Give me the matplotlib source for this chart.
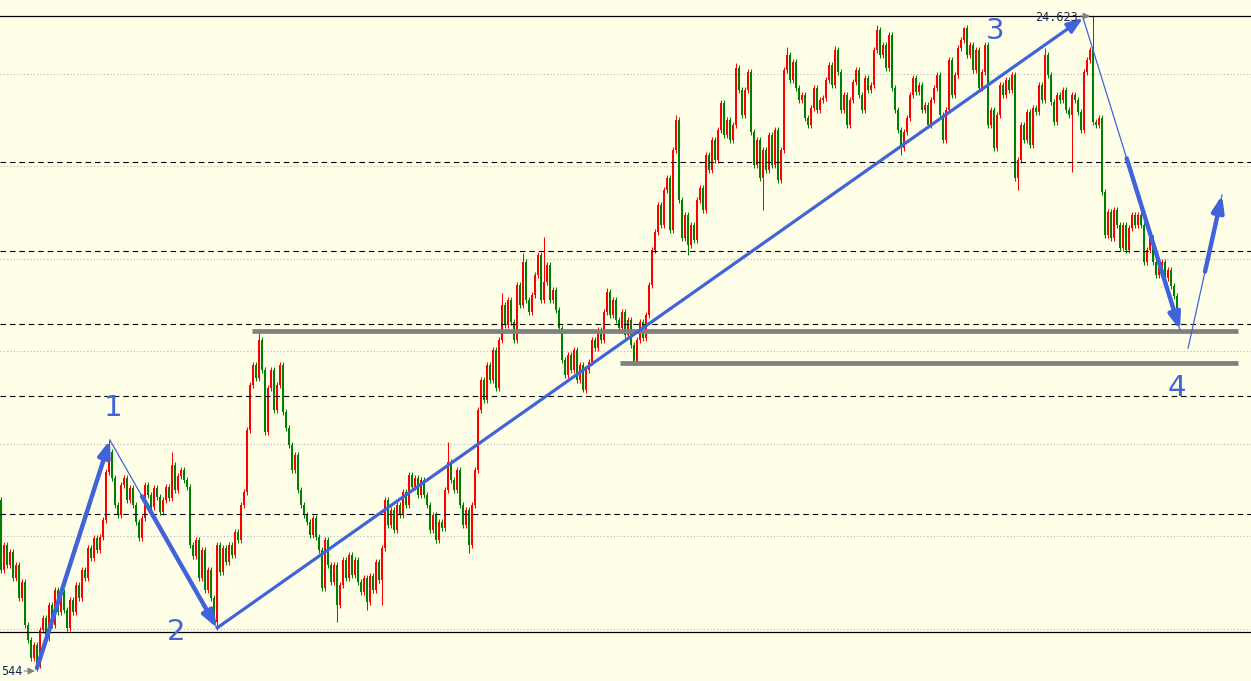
import numpy as np
import matplotlib.pyplot as plt

# price scale: the chart marks the high at 24.623 and the low at ...544
HIGH_LABEL = "24.623"
LOW_LABEL = "544"
PT = (24.623 - 23.544) / 655          # price per point
P0 = 24.623 + 16 * PT                 # reference price (points are measured down from it)

# close of every bar, in points below P0
closes = [
    570, 545, 565, 552, 578, 565, 598, 582, 625, 640,
    658, 645, 665, 630, 618, 638, 605, 625, 590, 612,
    592, 610, 628, 600, 612, 585, 598, 570, 578, 548,
    558, 538, 550, 537, 520, 472, 452, 478, 505, 515,
    485, 478, 500, 488, 505, 522, 538, 518, 485, 495,
    507, 488, 497, 512, 500, 487, 498, 465, 490, 476,
    470, 480, 487, 545, 556, 540, 578, 550, 590, 570,
    598, 622, 545, 572, 548, 562, 545, 555, 532, 540,
    505, 492, 430, 385, 365, 378, 340, 370, 432, 388,
    370, 410, 385, 365, 412, 428, 445, 470, 455, 490,
    505, 515, 522, 535, 518, 537, 550, 588, 540, 565,
    582, 565, 605, 585, 560, 578, 555, 575, 560, 582,
    592, 578, 602, 576, 590, 562, 580, 548, 500, 525,
    510, 530, 505, 515, 492, 505, 475, 487, 478, 495,
    480, 495, 505, 530, 515, 540, 522, 528, 490, 462,
    480, 490, 470, 505, 525, 510, 545, 505, 470, 410,
    380, 400, 365, 380, 350, 388, 340, 305, 325, 300,
    322, 340, 285, 305, 262, 300, 312, 295, 275, 255,
    300, 282, 265, 300, 290, 310, 328, 360, 375, 355,
    370, 350, 380, 365, 390, 370, 362, 340, 348, 330,
    340, 312, 292, 315, 300, 320, 328, 312, 335, 320,
    345, 362, 340, 322, 338, 315, 285, 250, 232, 205,
    225, 190, 178, 230, 150, 120, 200, 238, 215, 245,
    225, 240, 200, 188, 210, 155, 170, 140, 160, 130,
    103, 135, 120, 140, 125, 68, 90, 115, 90, 72,
    132, 165, 140, 178, 150, 170, 135, 165, 130, 180,
    150, 70, 55, 80, 62, 88, 100, 95, 118, 125,
    108, 88, 110, 100, 98, 80, 65, 85, 50, 72,
    110, 95, 125, 100, 82, 70, 95, 110, 78, 90,
    85, 50, 30, 55, 45, 68, 35, 88, 110, 130,
    148, 132, 118, 95, 78, 92, 85, 110, 105, 125,
    100, 88, 75, 115, 140, 110, 60, 95, 75, 48,
    40, 28, 55, 45, 70, 50, 88, 72, 45, 125,
    110, 148, 115, 85, 95, 80, 90, 75, 178, 160,
    125, 140, 112, 145, 108, 112, 85, 100, 55, 75,
    102, 122, 95, 100, 90, 110, 115, 95, 100, 112,
    130, 72, 60, 50, 122, 125, 118, 192, 235, 212,
    238, 210, 225, 248, 225, 250, 228, 215, 225, 215,
    225, 262, 250, 238, 262, 275, 268, 262, 278, 270,
    286, 296, 308,
]
first_open = 500

# bars with long shadows (bar index: points)
spike_hi = {36: 440, 57: 452, 86: 333, 149: 442, 167: 293, 174: 253, 181: 237,
            202: 288, 225: 115, 240: 100, 245: 63, 262: 47, 278: 46, 292: 25,
            296: 32, 321: 27, 348: 48, 364: 16, 380: 205}
spike_lo = {12: 671, 72: 630, 112: 622, 122: 610, 127: 605, 156: 553, 194: 392,
            211: 365, 229: 255, 254: 210, 300: 155, 339: 190, 357: 172}

# horizontal levels (points)
grid_levels = [74, 166, 259, 351, 444, 536, 629]
dashed_levels = [162, 251, 324, 396, 514]
solid_levels = [16, 632]
support_levels = [331, 363]
support_start = [83.7, 206.3]
support_end = 412.3

# wave points (bar index, points)
wave_x = [12, 36.3, 72, 360.7, 393]
wave_y = [668, 440, 628, 18, 330]
wave_labels = ["1", "2", "3", "4"]
proj_x = [395.7, 407]
proj_y = [348, 195]


def price(v):
    return P0 - np.asarray(v, dtype=float) * PT


c = np.array(closes, dtype=float)
o = np.r_[first_open, c[:-1]]
hi = np.minimum(o, c) - 3
lo = np.maximum(o, c) + 3
for k, v in spike_hi.items():
    hi[k] = v
for k, v in spike_lo.items():
    lo[k] = v
idx = np.arange(len(c))
rising = c < o
col = np.where(rising, '#ff0000', '#008000')

body_top = price(np.minimum(o, c))
body_bot = price(np.maximum(o, c))

bg = '#ffffe8'
blue = '#4163d9'
fig = plt.figure(figsize=(12.51, 6.81), dpi=100)
fig.patch.set_facecolor(bg)
ax = fig.add_axes([0, 0, 1, 1])
ax.set_facecolor(bg)
ax.set_xlim(-1 / 3, 1250 / 3)
ax.set_ylim(price(681), price(0))
ax.axis('off')

for g in grid_levels:
    ax.axhline(price(g), color='#b4b4b4', lw=0.8, ls=(0, (1, 2)), zorder=1)

# candles
ax.vlines(idx, price(lo), price(hi), colors=col, lw=0.75, zorder=2)
ax.bar(idx, body_top - body_bot, bottom=body_bot, width=0.7, color=col, lw=0, zorder=2)

for d in dashed_levels:
    ax.axhline(price(d), color='black', lw=0.8, ls=(0, (5, 3.5)), zorder=3)
for s in solid_levels:
    ax.axhline(price(s), color='black', lw=0.9, zorder=3)

for lvl, x0 in zip(support_levels, support_start):
    ax.hlines(price(lvl), x0, support_end, color='#808080', lw=3.4, zorder=4)


def point(a, b, t):
    return a + (b - a) * t


def arrow(x0, y0, x1, y1, lw):
    ax.annotate('', xy=(x1, price(y1)), xytext=(x0, price(y0)),
                arrowprops=dict(arrowstyle='-|>,head_length=0.95,head_width=0.35',
                                lw=lw, color=blue, shrinkA=0, shrinkB=0),
                zorder=5)


# wave 0-1
arrow(wave_x[0], wave_y[0], wave_x[1], wave_y[1], 3.2)
# wave 1-2
ax.plot(wave_x[1:3], price(wave_y[1:3]), color=blue, lw=0.9, zorder=5)
arrow(point(wave_x[1], wave_x[2], 0.3), point(wave_y[1], wave_y[2], 0.3),
      wave_x[2], wave_y[2], 3.2)
# wave 2-3
arrow(wave_x[2], wave_y[2], wave_x[3], wave_y[3], 2.3)
# wave 3-4
ax.plot(wave_x[3:5], price(wave_y[3:5]), color=blue, lw=0.9, zorder=5)
arrow(point(wave_x[3], wave_x[4], 0.45), point(wave_y[3], wave_y[4], 0.45),
      wave_x[4], wave_y[4], 3.2)
# projected wave 5
ax.plot(proj_x, price(proj_y), color=blue, lw=0.9, zorder=5)
arrow(point(proj_x[0], proj_x[1], 0.5), point(proj_y[0], proj_y[1], 0.5),
      proj_x[1], proj_y[1], 3.2)

label_pos = [(37.3, 408), (58.3, 632), (331.3, 31), (392, 388)]
for lab, (lx, ly) in zip(wave_labels, label_pos):
    ax.text(lx, price(ly), lab, color=blue, fontsize=21, ha='center', va='center', zorder=6)

# high / low markers
ax.text(359, price(17), HIGH_LABEL, family='DejaVu Sans Mono', fontsize=8.5,
        color='#1a2a50', ha='right', va='center', zorder=6)
ax.annotate('', xy=(363, price(16)), xytext=(359.8, price(16)),
            arrowprops=dict(arrowstyle='-|>,head_length=0.4,head_width=0.2', lw=0.8,
                            color='#808080', shrinkA=0, shrinkB=0), zorder=6)
ax.text(0, price(671), LOW_LABEL, family='DejaVu Sans Mono', fontsize=8.5,
        color='#1a2a50', ha='left', va='center', zorder=6)
ax.annotate('', xy=(11.3, price(671)), xytext=(7.7, price(671)),
            arrowprops=dict(arrowstyle='-|>,head_length=0.4,head_width=0.2', lw=0.8,
                            color='#808080', shrinkA=0, shrinkB=0), zorder=6)

fig.savefig('out.png', dpi=100, facecolor=bg)
